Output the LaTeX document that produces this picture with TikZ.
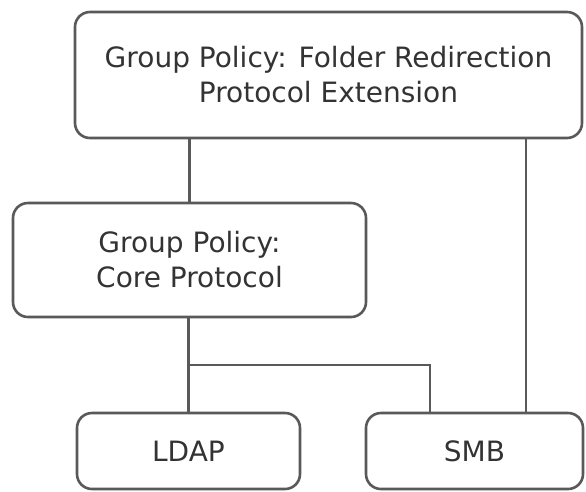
\documentclass[tikz,border=0pt]{standalone}
\usepackage{fontspec}
\setmainfont{DejaVu Sans}
\begin{document}
\begin{tikzpicture}[x=1pt,y=-1pt,
  box/.style={draw=black!65, line width=2.6pt, rounded corners=15pt, fill=white,
    align=center, text=black!80, inner sep=0pt,
    font=\fontsize{28}{35}\selectfont},
  link/.style={draw=black!65, line width=2.6pt}]
\useasboundingbox (0,0) rectangle (586,491);
\node[box, minimum width=507pt, minimum height=126pt] (top) at (328.5,75)
  {Group Policy: Folder Redirection\\Protocol Extension};
\node[box, minimum width=353pt, minimum height=114pt] (mid) at (189.5,260)
  {Group Policy:\\Core Protocol};
\node[box, minimum width=223pt, minimum height=76pt] (ldap) at (188.5,451) {LDAP};
\node[box, minimum width=217pt, minimum height=76pt] (smb) at (474.5,451) {SMB};
\coordinate (rx) at (526,0);
\coordinate (br) at (430,365);
\draw[link] (mid.north |- top.south) -- (mid.north);
\draw[link] (top.south -| rx) -- (smb.north -| rx);
\draw[link] (ldap.north |- mid.south) -- (ldap.north);
\draw[link] (ldap.north |- br) -- (br) -- (smb.north -| br);
\end{tikzpicture}
\end{document}
